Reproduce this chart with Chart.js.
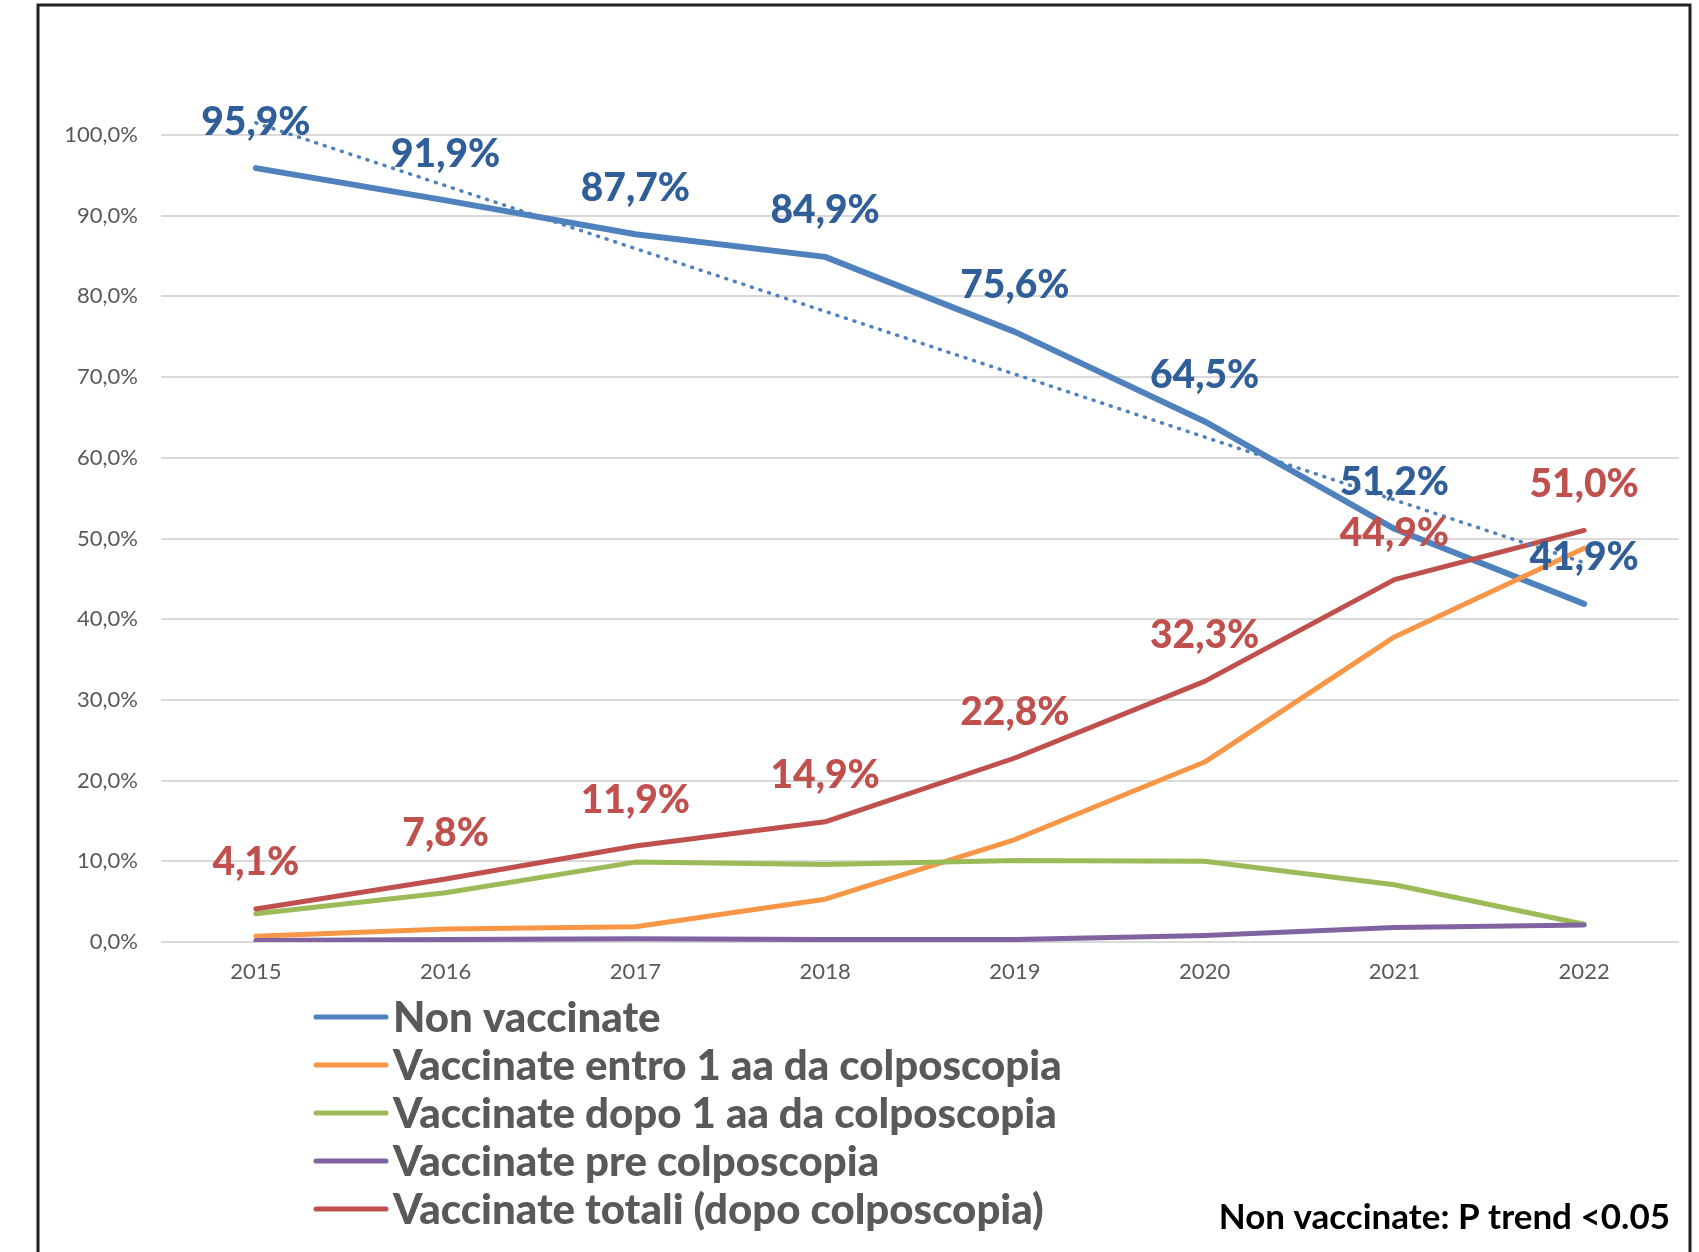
<!DOCTYPE html>
<html>
<head>
<meta charset="utf-8">
<script src="https://cdn.jsdelivr.net/npm/chart.js@4.4.0/dist/chart.umd.min.js"></script>
<style>
  html, body { margin: 0; padding: 0; background: #fff; }
  canvas { display: block; }
</style>
</head>
<body>
<canvas id="myChart" width="1699" height="1252"></canvas>
<script>
// Dati
const years = ['2015', '2016', '2017', '2018', '2019', '2020', '2021', '2022'];
const nonVaccinate = [95.9, 91.9, 87.7, 84.9, 75.6, 64.5, 51.2, 41.9];
const entro1aa = [0.7, 1.6, 1.9, 5.3, 12.7, 22.3, 37.8, 48.8];
const dopo1aa = [3.5, 6.1, 9.9, 9.6, 10.1, 10.0, 7.1, 2.2];
const preColpo = [0.2, 0.3, 0.4, 0.3, 0.3, 0.8, 1.8, 2.1];
const totali = [4.1, 7.8, 11.9, 14.9, 22.8, 32.3, 44.9, 51.0];
// linea di tendenza (solo estremi)
const trendNonVacc = [101.5, null, null, null, null, null, null, 47.0];
const noteText = 'Non vaccinate: P trend <0.05';

function fmt(v) {
    return v.toFixed(1).replace('.', ',') + '%';
}

// Cornice esterna
const framePlugin = {
    id: 'frame',
    beforeDraw(chart) {
        const c = chart.ctx;
        c.save();
        c.fillStyle = '#fff';
        c.fillRect(0, 0, chart.width, chart.height);
        c.strokeStyle = '#222';
        c.lineWidth = 3;
        c.beginPath();
        c.moveTo(38, 1260);
        c.lineTo(38, 5);
        c.lineTo(1690, 5);
        c.lineTo(1690, 1260);
        c.stroke();
        c.restore();
    }
};

// Etichette dei valori sopra i punti
const labelPlugin = {
    id: 'valueLabels',
    afterDatasetsDraw(chart) {
        const c = chart.ctx;
        c.save();
        c.font = '900 39px Lato';
        c.textAlign = 'center';
        c.textBaseline = 'middle';
        chart.data.datasets.forEach((ds, i) => {
            if (!ds.labelColor) return;
            const meta = chart.getDatasetMeta(i);
            c.fillStyle = ds.labelColor;
            meta.data.forEach((pt, j) => {
                c.fillText(fmt(ds.data[j]), pt.x, pt.y - 46);
            });
        });
        c.restore();
    }
};

// Legenda e nota
const legendPlugin = {
    id: 'customLegend',
    afterDraw(chart) {
        const c = chart.ctx;
        c.save();
        let y = 1017;
        chart.data.datasets.forEach(ds => {
            if (ds.trend) return;
            c.strokeStyle = ds.borderColor;
            c.lineWidth = 5;
            c.lineCap = 'round';
            c.beginPath();
            c.moveTo(316, y);
            c.lineTo(386, y);
            c.stroke();
            c.fillStyle = '#595959';
            c.font = '900 42px Lato';
            c.textAlign = 'left';
            c.textBaseline = 'middle';
            c.fillText(ds.label, 393, y + 1);
            y += 48;
        });
        c.fillStyle = '#000';
        c.font = 'bold 35px Lato';
        c.textAlign = 'right';
        c.textBaseline = 'middle';
        c.fillText(noteText, 1670, 1218);
        c.restore();
    }
};

const ctx = document.getElementById('myChart').getContext('2d');
const myChart = new Chart(ctx, {
    type: 'line',
    data: {
        labels: years,
        datasets: [
            {
                label: 'Non vaccinate',
                data: nonVaccinate,
                borderColor: '#4F81BD',
                borderWidth: 6,
                labelColor: '#2F5E99',
                order: 5
            },
            {
                label: 'Vaccinate entro 1 aa da colposcopia',
                data: entro1aa,
                borderColor: '#F79646',
                borderWidth: 5,
                order: 4
            },
            {
                label: 'Vaccinate dopo 1 aa da colposcopia',
                data: dopo1aa,
                borderColor: '#9BBB59',
                borderWidth: 5,
                order: 3
            },
            {
                label: 'Vaccinate pre colposcopia',
                data: preColpo,
                borderColor: '#8064A2',
                borderWidth: 5,
                order: 2
            },
            {
                label: 'Vaccinate totali (dopo colposcopia)',
                data: totali,
                borderColor: '#C0504D',
                borderWidth: 5,
                labelColor: '#C0504D',
                order: 1
            },
            {
                label: 'Tendenza',
                data: trendNonVacc,
                trend: true,
                borderColor: '#4F81BD',
                borderWidth: 3.5,
                borderDash: [1, 8],
                borderCapStyle: 'round',
                spanGaps: true,
                clip: false,
                order: 0
            }
        ]
    },
    options: {
        responsive: false,
        animation: false,
        devicePixelRatio: 1,
        elements: {
            point: { radius: 0 },
            line: { tension: 0, borderJoinStyle: 'round', borderCapStyle: 'round' }
        },
        layout: {
            padding: { left: 0, right: 20, top: 135, bottom: 250 }
        },
        plugins: {
            legend: { display: false },
            tooltip: { enabled: false }
        },
        scales: {
            x: {
                offset: true,
                grid: { display: false, drawTicks: false },
                border: { display: false },
                ticks: {
                    padding: 17,
                    color: '#595959',
                    font: { family: 'Lato', size: 22 }
                },
                afterFit(scale) { scale.height = 60; }
            },
            y: {
                min: 0,
                max: 100,
                grid: { color: '#D9D9D9', lineWidth: 2, drawTicks: false },
                border: { display: false },
                ticks: {
                    stepSize: 10,
                    padding: 23,
                    color: '#595959',
                    font: { family: 'Lato', size: 22 },
                    callback: v => fmt(v)
                },
                afterFit(scale) { scale.width = 161; }
            }
        }
    },
    plugins: [framePlugin, labelPlugin, legendPlugin]
});
</script>
</body>
</html>
